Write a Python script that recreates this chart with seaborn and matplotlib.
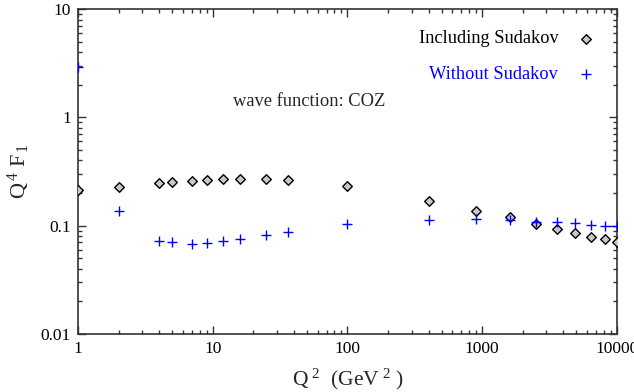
import numpy as np
import pandas as pd
import seaborn as sns
import matplotlib.pyplot as plt
from matplotlib.ticker import LogLocator, FixedLocator, FixedFormatter, NullFormatter

q2 = [1, 2, 4, 5, 7, 9, 12, 16, 25, 36, 100, 400, 900, 1600, 2500, 3600, 4900, 6400, 8100, 10000]
with_sudakov = [0.214, 0.227, 0.247, 0.252, 0.259, 0.265, 0.269, 0.271, 0.271, 0.263, 0.233,
                0.170, 0.138, 0.119, 0.104, 0.093, 0.0855, 0.079, 0.0748, 0.0706]
without_sudakov = [2.9, 0.137, 0.0726, 0.0706, 0.068, 0.069, 0.0716, 0.0748, 0.0815, 0.0875, 0.103,
                   0.113, 0.114, 0.112, 0.109, 0.107, 0.105, 0.102, 0.100, 0.099]

sns.set_theme(style='ticks')
plt.rcParams['font.family'] = ['Liberation Serif', 'DejaVu Serif']
plt.rcParams['mathtext.fontset'] = 'custom'
plt.rcParams['mathtext.rm'] = 'Liberation Serif'
plt.rcParams['mathtext.it'] = 'Liberation Serif'

fig = plt.figure(figsize=(6.34, 3.92), dpi=100)
ax = fig.add_axes([0.123, 0.148, 0.850, 0.829])

sns.scatterplot(x=q2, y=with_sudakov, ax=ax, marker='D', s=24, color='#c8c8c8',
                edgecolor='black', linewidth=1.0, label='Including Sudakov', zorder=3)
sns.scatterplot(x=q2, y=without_sudakov, ax=ax, marker='+', s=60, color='blue',
                linewidth=1.0, label='Without Sudakov', zorder=3)

ax.set_xscale('log')
ax.set_yscale('log')
ax.set_xlim(1, 10000)
ax.set_ylim(0.01, 10)

ax.xaxis.set_major_locator(FixedLocator([1, 10, 100, 1000, 10000]))
ax.xaxis.set_major_formatter(FixedFormatter(['1', '10', '100', '1000', '10000']))
ax.yaxis.set_major_locator(FixedLocator([0.01, 0.1, 1, 10]))
ax.yaxis.set_major_formatter(FixedFormatter(['0.01', '0.1', '1', '10']))
ax.xaxis.set_minor_locator(LogLocator(base=10, subs=np.arange(2, 10)))
ax.yaxis.set_minor_locator(LogLocator(base=10, subs=np.arange(2, 10)))
ax.xaxis.set_minor_formatter(NullFormatter())
ax.yaxis.set_minor_formatter(NullFormatter())

ax.tick_params(which='both', direction='in', top=True, right=True, colors='#333333',
               labelcolor='black', labelsize=12.5, width=1.0)
ax.tick_params(which='major', length=6, pad=5)
ax.tick_params(which='minor', length=3)
for s in ax.spines.values():
    s.set_linewidth(1.2)
    s.set_color('#333333')

ax.set_xlabel(r'Q$^{\ 2}$  (GeV$^{\ 2}$ )', fontsize=15.5, labelpad=7)
ax.set_ylabel(r'Q$^{\,4}$ F$_{\,1}$', fontsize=16, labelpad=6)

ax.text(0.288, 0.714, 'wave function: COZ', transform=ax.transAxes, fontsize=13.3,
        ha='left', va='center')

leg = ax.legend(loc='upper right', bbox_to_anchor=(0.99, 0.985), frameon=False,
                markerfirst=False, fontsize=13.2, handletextpad=1.0, labelspacing=1.0,
                handlelength=1.0)
for txt, col in zip(leg.get_texts(), ['black', 'blue']):
    txt.set_color(col)

fig.savefig('out.png', dpi=100)
